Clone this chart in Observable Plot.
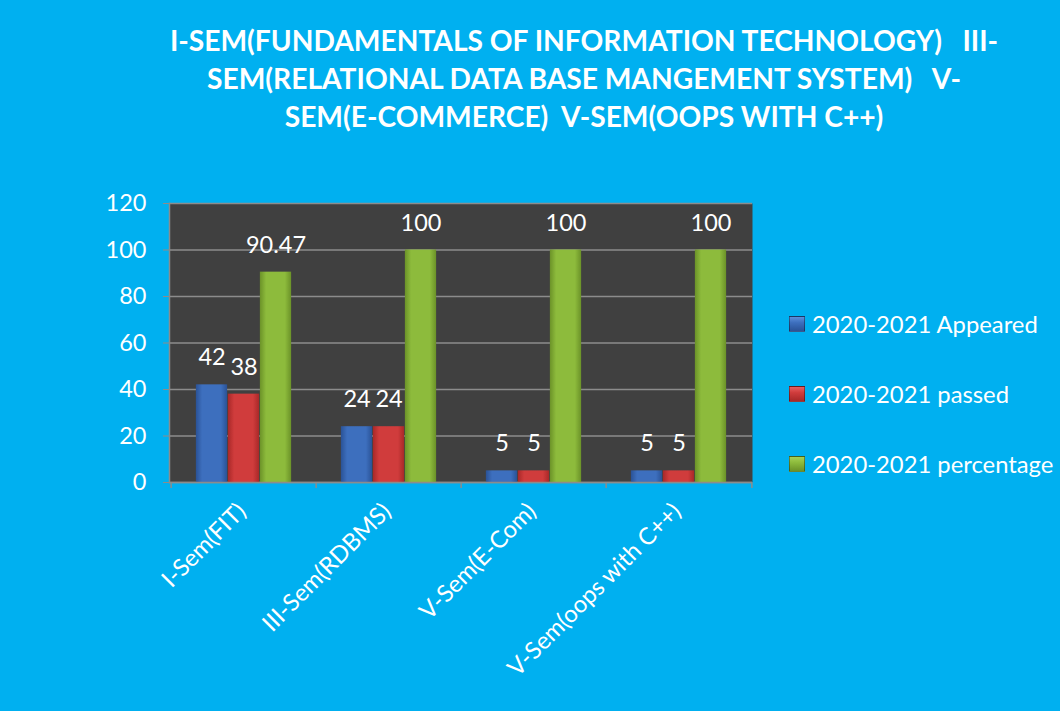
<!DOCTYPE html>
<html><head><meta charset="utf-8">
<script src="https://cdn.jsdelivr.net/npm/d3@7"></script>
<script src="https://cdn.jsdelivr.net/npm/@observablehq/plot@0.6"></script>
<style>
body{margin:0;background:#00B0F0;}
#wrap{position:relative;width:1060px;height:711px;background:#00B0F0;font-family:Lato,"Open Sans",sans-serif;overflow:hidden}
#title{position:absolute;top:21px;left:0;width:1168px;text-align:center;color:#fff;font-weight:bold;font-size:28.2px;line-height:38px;white-space:pre}
#chart{position:absolute;top:170px;left:0}
#legend{position:absolute;left:789px;top:289px;color:#fff;font-size:23.8px}
.item{display:flex;align-items:center;height:70px}
.sw{width:16px;height:16px;margin-right:7px;box-sizing:border-box;border:1px solid rgba(0,0,0,0.35)}
</style>
</head><body>
<div id="wrap">
  <div id="title"></div>
  <div id="chart"></div>
  <div id="legend"></div>
</div>
<script>
const titleLines = ["I-SEM(FUNDAMENTALS OF INFORMATION TECHNOLOGY)   III-", "SEM(RELATIONAL DATA BASE MANGEMENT SYSTEM)   V-", "SEM(E-COMMERCE)  V-SEM(OOPS WITH C++)"];
const categories = ["I-Sem(FIT)", "III-Sem(RDBMS)", "V-Sem(E-Com)", "V-Sem(oops with C++)"];
const appeared = [42, 24, 5, 5];
const passed = [38, 24, 5, 5];
const percentage = [90.47, 100, 100, 100];
const seriesNames = ["2020-2021 Appeared", "2020-2021 passed", "2020-2021 percentage"];
const yTicks = [0, 20, 40, 60, 80, 100, 120];
const colors = ["#3D6FBE", "#D03C3C", "#8DBB3C"];
const darkColors = ["#2A5296", "#A82828", "#6B9228"];
const lightColors = ["#5C8FDA", "#E86060", "#A6D054"];

document.getElementById("title").textContent = titleLines.join("\n");

const seriesValues = [appeared, passed, percentage];
const W = 1060, H = 541, mL = 169, mR = 308, mT = 33, mB = 229;
const bw = (W - mL - mR) / categories.length;
const barW = 32;
const inset = (bw - barW) / 2;
const offsets = [-barW, 0, barW];
const gridColor = "#8C8C8C";

const marks = [
  Plot.frame({fill: "#404040", stroke: null}),
  Plot.gridY(yTicks, {stroke: gridColor, strokeOpacity: 1, strokeWidth: 1.5})
];
seriesValues.forEach((vals, s) => {
  const rows = categories.map((c, i) => ({cat: c, value: vals[i]}));
  marks.push(Plot.barY(rows, {x: "cat", y: "value", fill: colors[s], insetLeft: inset, insetRight: inset, dx: offsets[s], className: "bars" + s}));
});
seriesValues.forEach((vals, s) => {
  const rows = categories.map((c, i) => ({cat: c, value: vals[i]}));
  marks.push(Plot.text(rows, {x: "cat", y: "value", text: d => String(d.value), dx: offsets[s], dy: -27, fill: "#fff", fontSize: 23.5}));
});
marks.push(
  Plot.ruleY([0], {stroke: gridColor, strokeWidth: 1.5}),
  Plot.frame({anchor: "left", stroke: gridColor, strokeWidth: 1.5}),
  Plot.ruleX(categories, {x: d => d, dx: -bw / 2, y1: 0, y2: 0, insetBottom: -6, stroke: gridColor, strokeWidth: 1.5}),
  Plot.ruleX(categories.slice(-1), {x: d => d, dx: bw / 2, y1: 0, y2: 0, insetBottom: -6, stroke: gridColor, strokeWidth: 1.5}),
  Plot.axisY(yTicks, {tickSize: 6, tickPadding: 17, stroke: gridColor, fill: "#fff", fontSize: 23.5, label: null}),
  Plot.axisX({tickSize: 0, tickRotate: -45, tickPadding: 25, dx: -2, fill: "#fff", fontSize: 23.8, label: null})
);

const chart = Plot.plot({
  width: W, height: H,
  marginLeft: mL, marginRight: mR, marginTop: mT, marginBottom: mB,
  style: {background: "transparent", fontFamily: "Lato, 'Open Sans', sans-serif", color: "#fff"},
  x: {type: "band", domain: categories, padding: 0},
  y: {domain: [0, 120]},
  marks
});

// horizontal gradients to imitate the bevelled bars
const svg = d3.select(chart);
const defs = svg.insert("defs", ":first-child");
colors.forEach((c, s) => {
  const g = defs.append("linearGradient").attr("id", "grad" + s).attr("x1", 0).attr("x2", 1).attr("y1", 0).attr("y2", 0);
  g.append("stop").attr("offset", "0%").attr("stop-color", darkColors[s]);
  g.append("stop").attr("offset", "20%").attr("stop-color", c);
  g.append("stop").attr("offset", "80%").attr("stop-color", c);
  g.append("stop").attr("offset", "100%").attr("stop-color", darkColors[s]);
  svg.selectAll(".bars" + s + " rect").attr("fill", `url(#grad${s})`);
});
document.getElementById("chart").append(chart);

const legend = document.getElementById("legend");
seriesNames.forEach((n, s) => {
  const item = document.createElement("div");
  item.className = "item";
  const sw = document.createElement("span");
  sw.className = "sw";
  sw.style.background = `linear-gradient(${lightColors[s]}, ${colors[s]} 40%, ${darkColors[s]})`;
  const t = document.createElement("span");
  t.textContent = n;
  item.append(sw, t);
  legend.append(item);
});
</script>
</body></html>
